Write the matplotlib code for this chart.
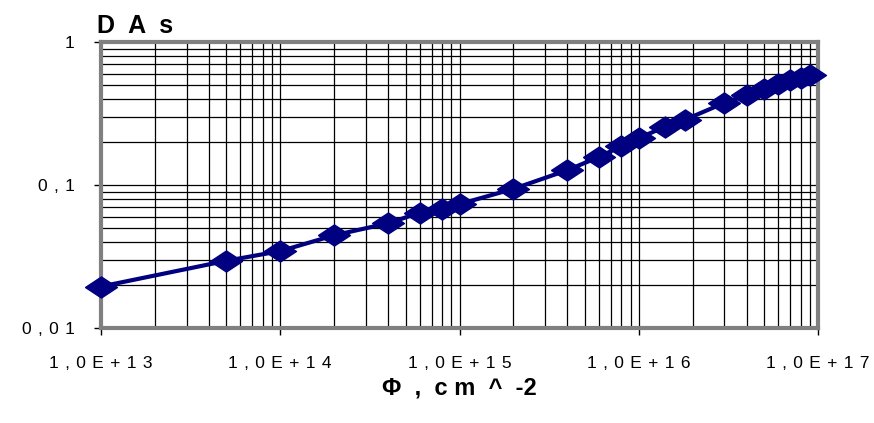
import numpy as np
import matplotlib.pyplot as plt
from matplotlib.ticker import LogLocator, FixedLocator, NullFormatter

plt.rcParams['font.family'] = ['Liberation Sans', 'DejaVu Sans']

# fluence (cm^-2) and DAs
fluence = [1e13, 5e13, 1e14, 2e14, 4e14, 6e14, 8e14, 1e15, 2e15, 4e15, 6e15,
           8e15, 1e16, 1.4e16, 1.8e16, 3e16, 4e16, 5e16, 6e16, 7e16, 8e16, 9e16]
das = [0.0195, 0.0295, 0.0345, 0.0445, 0.054, 0.064, 0.068, 0.0735, 0.094,
       0.127, 0.157, 0.187, 0.213, 0.255, 0.285, 0.375, 0.425, 0.47, 0.505,
       0.54, 0.56, 0.585]

x_ticks = [1e13, 1e14, 1e15, 1e16, 1e17]
x_labels = ['1,0E+13', '1,0E+14', '1,0E+15', '1,0E+16', '1,0E+17']
y_ticks = [0.01, 0.1, 1]
y_labels = ['0,01', '0,1', '1']


def spaced(s, gap=' '):
    return gap.join(s)


navy = '#000080'
diamond = [(-1, 0), (0, 0.66), (1, 0), (0, -0.66), (-1, 0)]

fig = plt.figure(figsize=(8.74, 4.23), dpi=100)
ax = fig.add_axes([101 / 874, 95 / 423, 717 / 874, 286 / 423])
ax.set_xscale('log')
ax.set_yscale('log')
ax.set_xlim(1e13, 1e17)
ax.set_ylim(0.01, 1)

ax.plot(fluence, das, color=navy, lw=3, marker=diamond, ms=23,
        mfc=navy, mec=navy, clip_on=False, zorder=5)

ax.xaxis.set_major_locator(FixedLocator(x_ticks))
ax.yaxis.set_major_locator(FixedLocator(y_ticks))
ax.xaxis.set_minor_locator(LogLocator(base=10, subs=np.arange(2, 10), numticks=20))
ax.yaxis.set_minor_locator(LogLocator(base=10, subs=np.arange(2, 10), numticks=20))
ax.xaxis.set_minor_formatter(NullFormatter())
ax.yaxis.set_minor_formatter(NullFormatter())
ax.set_xticklabels([spaced(s, ' \u200a') for s in x_labels])
ax.set_yticklabels([spaced(s, ' \u200a') for s in y_labels])

ax.grid(True, which='both', color='black', lw=0.9)
ax.tick_params(which='major', direction='out', length=5, width=1,
               color='black', labelsize=12.5, pad=14)
ax.tick_params(which='minor', length=0)
ax.tick_params(axis='x', pad=15)

for sp in ax.spines.values():
    sp.set_color('#808080')
    sp.set_linewidth(3)

fig.text(97 / 874, 1 - 26 / 423, 'D  A  s', fontsize=18, fontweight='bold',
         ha='left', va='center')
ax.set_xlabel('Φ  ,  c m  ^  -2', fontsize=17, fontweight='bold', labelpad=4)

plt.savefig('out.png', dpi=100)
